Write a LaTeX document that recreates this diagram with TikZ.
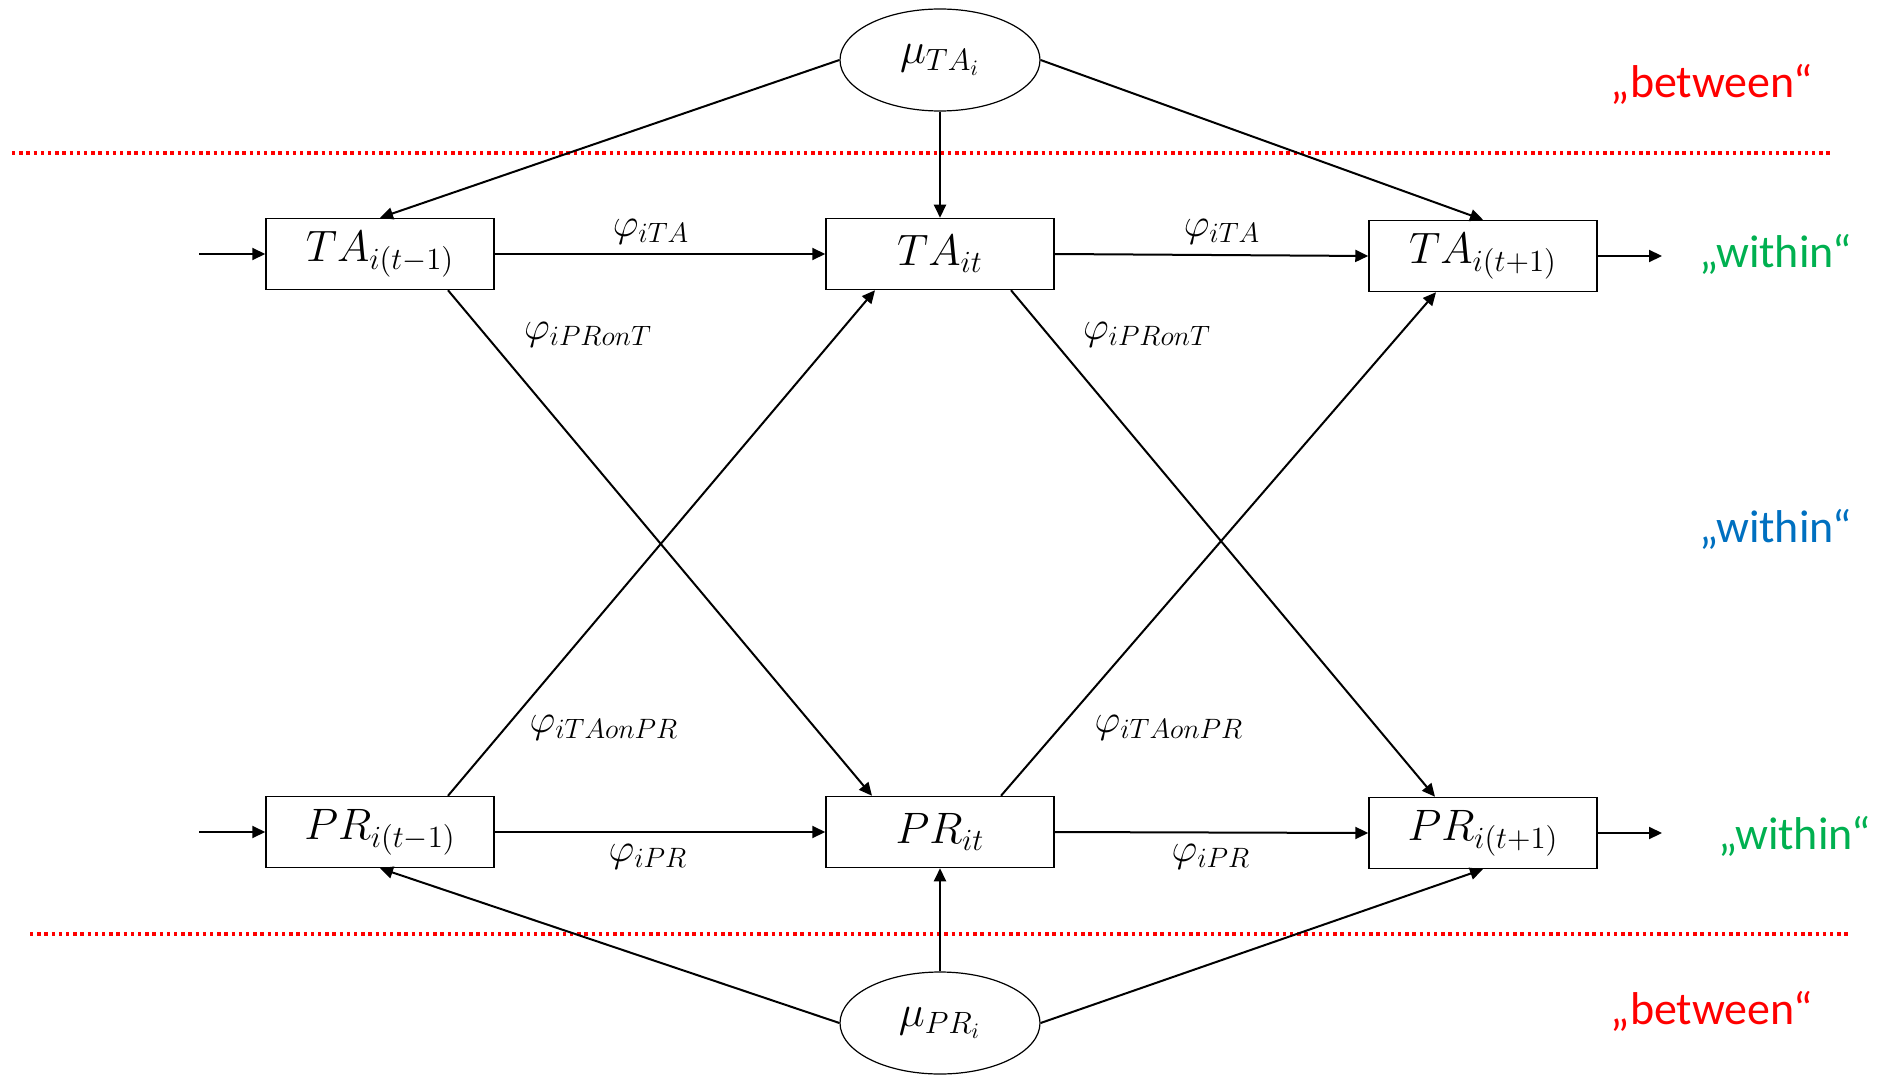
\RequirePackage{fix-cm}
\documentclass[tikz,border=0pt]{standalone}
\usepackage{fontspec}
\newfontfamily\labelfont{Carlito}
\usetikzlibrary{arrows.meta,calc,shapes.geometric}
\definecolor{lblred}{RGB}{255,0,0}
\definecolor{lblgreen}{RGB}{0,176,80}
\definecolor{lblblue}{RGB}{0,112,192}
\tikzset{
  varbox/.style={draw, line width=0.75pt, minimum width=114pt, minimum height=35.5pt,
    inner sep=0pt, font=\fontsize{22}{26}\selectfont},
  meanvar/.style={draw, ellipse, line width=0.6pt, minimum width=100pt, minimum height=51pt,
    inner sep=0pt, font=\fontsize{22}{26}\selectfont},
  arr/.style={line width=1pt, -{Triangle[length=6.5pt,width=6pt]}},
  coef/.style={font=\fontsize{20}{24}\selectfont, inner sep=0pt},
  level/.style={font=\labelfont\fontsize{23}{27}\selectfont, inner sep=0pt},
  divider/.style={lblred, line width=1.6pt, dash pattern=on 1.7pt off 1.9pt}
}
\begin{document}
\begin{tikzpicture}[x=0.5pt, y=-0.5pt]
\useasboundingbox (0,0) rectangle (1888,1075);

% level separators
\draw[divider] (12,153) -- (1833,153);
\draw[divider] (30,934) -- (1851,934);

% random means
\node[meanvar] (mta) at (940,60) {$\mu_{TA_i}$};
\node[meanvar] (mpr) at (940,1023) {$\mu_{PR_i}$};

% observed occasions
\node[varbox] (ta1) at (380,254) {$TA_{i(t-1)}$};
\node[varbox] (ta2) at (940,254) {$TA_{it}$};
\node[varbox] (ta3) at (1483,256) {$TA_{i(t+1)}$};
\node[varbox] (pr1) at (380,832) {$PR_{i(t-1)}$};
\node[varbox] (pr2) at (940,832) {$PR_{it}$};
\node[varbox] (pr3) at (1483,833) {$PR_{i(t+1)}$};

% open ends of the chains
\coordinate (inta) at (199,254);
\coordinate (inpr) at (199,832);
\coordinate (outta) at (1662,256);
\coordinate (outpr) at (1662,833);

% between-person paths
\draw[arr] (mta.west) -- (ta1.north);
\draw[arr] (mta.south) -- (ta2.north);
\draw[arr] (mta.east) -- (ta3.north);
\draw[arr] (mpr.west) -- (pr1.south);
\draw[arr] (mpr.north) -- (pr2.south);
\draw[arr] (mpr.east) -- (pr3.south);

% autoregressive paths
\draw[arr] (inta) -- (ta1.west);
\draw[arr] (ta1.east) -- (ta2.west);
\draw[arr] (ta2.east) -- (ta3.west);
\draw[arr] (ta3.east) -- (outta);
\draw[arr] (inpr) -- (pr1.west);
\draw[arr] (pr1.east) -- (pr2.west);
\draw[arr] (pr2.east) -- (pr3.west);
\draw[arr] (pr3.east) -- (outpr);

% cross-lagged paths
\draw[arr] ($(ta1.south)+(68,0)$) -- ($(pr2.north)+(-68,0)$);
\draw[arr] ($(pr1.north)+(68,0)$) -- ($(ta2.south)+(-65,0)$);
\draw[arr] ($(ta2.south)+(71,0)$) -- ($(pr3.north)+(-48,0)$);
\draw[arr] ($(pr2.north)+(61,0)$) -- ($(ta3.south)+(-47,0)$);

% path coefficients
\node[coef] (cta1) at (651,232) {$\varphi_{iTA}$};
\node[coef] (cta2) at (1222,232) {$\varphi_{iTA}$};
\node[coef] (cpt1) at (588,335) {$\varphi_{iPRonT}$};
\node[coef] (cpt2) at (1147,335) {$\varphi_{iPRonT}$};
\node[coef] (ctp1) at (604,728) {$\varphi_{iTAonPR}$};
\node[coef] (ctp2) at (1169,728) {$\varphi_{iTAonPR}$};
\node[coef] (cpr1) at (648,857) {$\varphi_{iPR}$};
\node[coef] (cpr2) at (1211,857) {$\varphi_{iPR}$};

% level labels
\node[level, text=lblred] (lb1) at (1712,84) {„between“};
\node[level, text=lblgreen] (lw1) at (1776,254) {„within“};
\node[level, text=lblblue] (lw2) at (1776,529) {„within“};
\node[level, text=lblgreen] (lw3) at (1795,836) {„within“};
\node[level, text=lblred] (lb2) at (1712,1011) {„between“};
\end{tikzpicture}
\end{document}
